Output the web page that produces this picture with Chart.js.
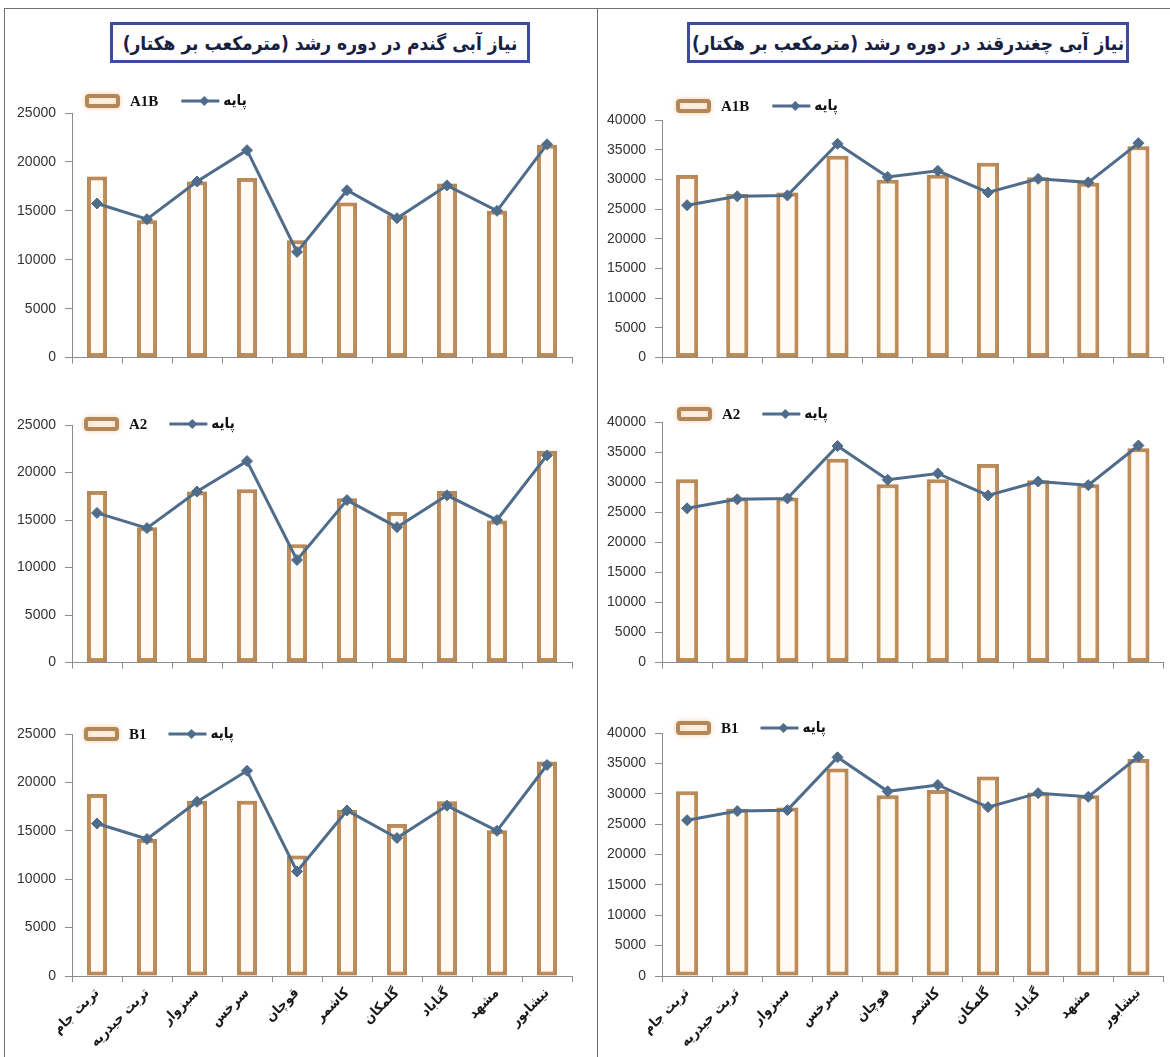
<!DOCTYPE html>
<html lang="fa">
<head>
<meta charset="utf-8">
<title>نیاز آبی گندم و چغندرقند</title>
<script src="https://cdn.jsdelivr.net/npm/chart.js@4.4.1/dist/chart.umd.min.js"></script>
<style>
  html, body { margin: 0; padding: 0; background: #fff; }
  #page { position: relative; width: 1170px; height: 1057px; overflow: hidden; background: #fff; }
  .rule { position: absolute; background: #6f6f6f; }
  .title {
    position: absolute; top: 22px; height: 41px; box-sizing: border-box;
    border: 3px solid #3d4b9f; background: #fff;
    display: flex; align-items: center; justify-content: center;
    direction: rtl; font-family: "DejaVu Sans Condensed", "DejaVu Sans", sans-serif; font-weight: bold;
    font-size: 19px; color: #17203f; white-space: nowrap;
  }
  .holder { position: absolute; }
  canvas { display: block; }
</style>
</head>
<body>
<div id="page">
  <div class="rule" style="left:4px; top:8px; width:1166px; height:1px;"></div>
  <div class="rule" style="left:4px; top:8px; width:1px; height:1049px;"></div>
  <div class="rule" style="left:597px; top:8px; width:1px; height:1049px;"></div>

  <div class="title" style="left:110px; width:420px;">نیاز آبی گندم در دوره رشد (مترمکعب بر هکتار)</div>
  <div class="title" style="left:687px; width:442px;">نیاز آبی چغندرقند در دوره رشد (مترمکعب بر هکتار)</div>

  <div class="holder" id="h-w1"><canvas id="w1"></canvas></div>
  <div class="holder" id="h-w2"><canvas id="w2"></canvas></div>
  <div class="holder" id="h-w3"><canvas id="w3"></canvas></div>
  <div class="holder" id="h-b1"><canvas id="b1"></canvas></div>
  <div class="holder" id="h-b2"><canvas id="b2"></canvas></div>
  <div class="holder" id="h-b3"><canvas id="b3"></canvas></div>
</div>

<script>
// Counties of Khorasan Razavi (x-axis categories)
const cities = ['تربت جام', 'تربت حیدریه', 'سبزوار', 'سرخس', 'قوچان', 'کاشمر', 'گلمکان', 'گناباد', 'مشهد', 'نیشابور'];

// Series names
const baseLabel = 'پایه';
const scenarioLabels = ['A1B', 'A2', 'B1'];

// Wheat water requirement over the growing season (m3/ha)
const wheatBase = [15750, 14150, 18000, 21200, 10800, 17100, 14250, 17600, 15000, 21800];
const wheatA1B  = [18500, 14050, 18000, 18350, 12000, 15850, 14550, 17800, 15000, 21750];
const wheatA2   = [18050, 14250, 18000, 18250, 12450, 17300, 15850, 18050, 14950, 22300];
const wheatB1   = [18800, 14150, 18100, 18100, 12450, 17150, 15700, 18050, 15050, 22150];

// Sugar beet water requirement over the growing season (m3/ha)
const beetBase = [25650, 27150, 27300, 36000, 30400, 31450, 27800, 30100, 29500, 36100];
const beetA1B  = [30750, 27550, 27800, 34000, 29950, 30800, 32800, 30350, 29450, 35600];
const beetA2   = [30500, 27450, 27450, 33900, 29650, 30500, 33000, 30300, 29650, 35650];
const beetB1   = [30400, 27550, 27750, 34150, 29750, 30600, 32850, 30200, 29750, 35700];

// Value axis ranges
const wheatMax = 25000;
const beetMax = 40000;
const axisStep = 5000;

const BAR_EDGE = '#b2875a';
const BAR_FILL = '#fffaf3';
const LINE_COLOR = '#4f6d8b';
const PERSIAN_FONT = '"DejaVu Sans Condensed", "DejaVu Sans", sans-serif';

// Legend drawn above the plot: hollow bar swatch + scenario, line swatch + base
const legendPlugin = {
  id: 'scenarioLegend',
  afterDraw(chart, args, opts) {
    const { ctx, chartArea } = chart;
    const bar = chart.data.datasets.find(d => d.type === 'bar');
    const line = chart.data.datasets.find(d => d.type === 'line');
    const y = chartArea.top + opts.dy;
    let x = chartArea.left + opts.dx;
    ctx.save();
    // bar swatch
    ctx.shadowColor = 'rgba(240,170,95,0.5)';
    ctx.shadowBlur = 5;
    ctx.lineWidth = 4;
    ctx.strokeStyle = bar.borderColor;
    ctx.fillStyle = bar.backgroundColor;
    ctx.beginPath();
    ctx.roundRect(x + 2, y - 5, 31, 10, 2);
    ctx.fill();
    ctx.stroke();
    ctx.shadowBlur = 0;
    ctx.shadowColor = 'transparent';
    x += 35 + 10;
    ctx.fillStyle = '#111';
    ctx.textBaseline = 'middle';
    ctx.textAlign = 'left';
    ctx.font = 'bold 15px "Liberation Serif", serif';
    ctx.fillText(bar.label, x, y + 1);
    x += ctx.measureText(bar.label).width + opts.gap;
    // line swatch with diamond marker
    ctx.strokeStyle = line.borderColor;
    ctx.lineWidth = 3;
    ctx.beginPath();
    ctx.moveTo(x, y);
    ctx.lineTo(x + 38, y);
    ctx.stroke();
    ctx.fillStyle = line.borderColor;
    const mx = x + 23, r = 5;
    ctx.beginPath();
    ctx.moveTo(mx, y - r); ctx.lineTo(mx + r, y); ctx.lineTo(mx, y + r); ctx.lineTo(mx - r, y);
    ctx.closePath();
    ctx.fill();
    x += 42;
    ctx.fillStyle = '#111';
    ctx.font = 'bold 15px ' + PERSIAN_FONT;
    ctx.fillText(line.label, x, y);
    ctx.restore();
  }
};

// Soft warm halo around the bars
const glowPlugin = {
  id: 'barGlow',
  beforeDatasetDraw(chart, args) {
    if (chart.data.datasets[args.index].type !== 'bar') return;
    chart.ctx.save();
    chart.ctx.shadowColor = 'rgba(245,175,100,0.6)';
    chart.ctx.shadowBlur = 8;
  },
  afterDatasetDraw(chart, args) {
    if (chart.data.datasets[args.index].type !== 'bar') return;
    chart.ctx.restore();
  }
};

function buildChart(spec) {
  const holder = document.getElementById('h-' + spec.id);
  holder.style.left = spec.box[0] + 'px';
  holder.style.top = spec.box[1] + 'px';
  const canvas = document.getElementById(spec.id);
  canvas.width = spec.box[2];
  canvas.height = spec.box[3];
  canvas.style.width = spec.box[2] + 'px';
  canvas.style.height = spec.box[3] + 'px';

  const [pl, pt, pr, pb] = spec.plot;
  const yWidth = pl - spec.box[0];
  const xHeight = spec.box[1] + spec.box[3] - pb;

  new Chart(canvas, {
    data: {
      labels: cities,
      datasets: [
        {
          type: 'line',
          label: baseLabel,
          data: spec.base,
          order: 0,
          borderColor: LINE_COLOR,
          backgroundColor: LINE_COLOR,
          borderWidth: 3,
          pointStyle: 'rectRot',
          pointRadius: 5.5,
          pointBackgroundColor: LINE_COLOR,
          pointBorderColor: LINE_COLOR,
          pointBorderWidth: 1,
          tension: 0
        },
        {
          type: 'bar',
          label: spec.scenario,
          data: spec.values,
          order: 1,
          backgroundColor: BAR_FILL,
          borderColor: BAR_EDGE,
          borderWidth: 4,
          borderSkipped: false,
          categoryPercentage: 0.8,
          barPercentage: spec.barPct
        }
      ]
    },
    options: {
      responsive: false,
      animation: false,
      devicePixelRatio: 1,
      layout: { padding: { top: pt - spec.box[1], right: spec.box[0] + spec.box[2] - pr, left: 0, bottom: 0 } },
      plugins: {
        legend: { display: false },
        tooltip: { enabled: false },
        scenarioLegend: { dx: spec.legend[0], dy: spec.legend[1], gap: spec.legend[2] }
      },
      scales: {
        x: {
          type: 'category',
          offset: true,
          grid: { display: true, offset: true, drawOnChartArea: false, drawTicks: true, tickLength: 6, color: '#8c8c8c', lineWidth: 1 },
          border: { display: true, color: '#8c8c8c', width: 1 },
          ticks: {
            display: spec.showCities,
            autoSkip: false,
            minRotation: 45,
            maxRotation: 45,
            padding: 3,
            color: '#1a1a1a',
            font: { family: PERSIAN_FONT, size: 14, weight: 'bold' }
          },
          afterFit(scale) { scale.height = xHeight; }
        },
        y: {
          min: 0,
          max: spec.max,
          grid: { display: true, drawOnChartArea: false, drawTicks: true, tickLength: 7, color: '#8c8c8c', lineWidth: 1 },
          border: { display: true, color: '#8c8c8c', width: 1 },
          ticks: {
            stepSize: axisStep,
            padding: 9,
            color: '#333',
            font: { family: '"Liberation Sans", sans-serif', size: 14 },
            callback: v => String(v)
          },
          afterFit(scale) { scale.width = yWidth; }
        }
      }
    },
    plugins: [legendPlugin, glowPlugin]
  });
}

const charts = [
  { id: 'w1', scenario: scenarioLabels[0], values: wheatA1B, base: wheatBase, max: wheatMax, showCities: false,
    box: [6, 70, 590, 305], plot: [72, 113, 572, 360], legend: [13, -12, 23], barPct: 0.5 },
  { id: 'w2', scenario: scenarioLabels[1], values: wheatA2, base: wheatBase, max: wheatMax, showCities: false,
    box: [6, 385, 590, 295], plot: [72, 425, 572, 666], legend: [12, -1, 22], barPct: 0.5 },
  { id: 'w3', scenario: scenarioLabels[2], values: wheatB1, base: wheatBase, max: wheatMax, showCities: false,
    box: [6, 695, 590, 362], plot: [72, 734, 572, 976], legend: [12, 0, 22], barPct: 0.5 },
  { id: 'b1', scenario: scenarioLabels[0], values: beetA1B, base: beetBase, max: beetMax, showCities: false,
    box: [600, 70, 570, 305], plot: [662, 120, 1165, 363], legend: [14, -14, 23], barPct: 0.55 },
  { id: 'b2', scenario: scenarioLabels[1], values: beetA2, base: beetBase, max: beetMax, showCities: false,
    box: [600, 385, 570, 295], plot: [662, 422, 1165, 665], legend: [15, -8, 22], barPct: 0.55 },
  { id: 'b3', scenario: scenarioLabels[2], values: beetB1, base: beetBase, max: beetMax, showCities: false,
    box: [600, 695, 570, 362], plot: [662, 733, 1165, 976], legend: [14, -5, 22], barPct: 0.55 }
];
charts[2].showCities = true;
charts[5].showCities = true;

charts.forEach(buildChart);
</script>
</body>
</html>
